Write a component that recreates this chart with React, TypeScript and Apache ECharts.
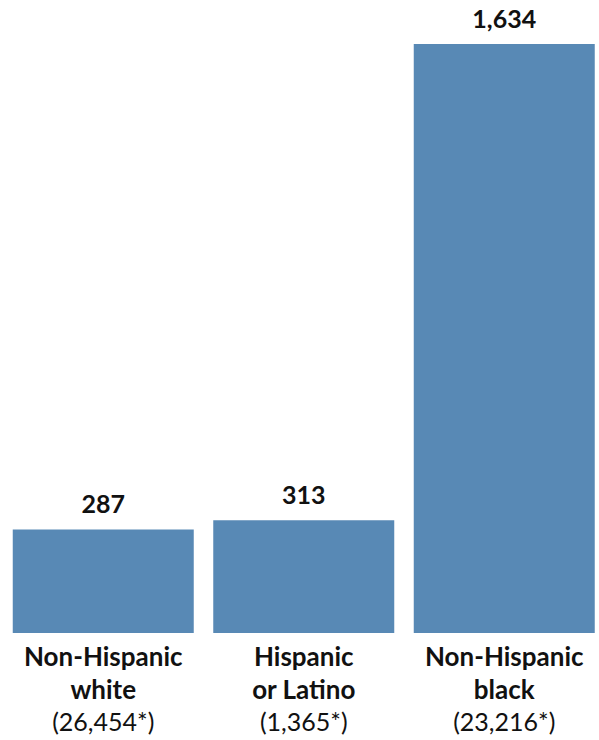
import React, { useEffect, useRef } from "react";
import * as echarts from "echarts";

const categories = ["Non-Hispanic\nwhite", "Hispanic\nor Latino", "Non-Hispanic\nblack"];
const counts = ["(26,454*)", "(1,365*)", "(23,216*)"];
const values = [287, 313, 1634];

const FONT = "Lato";

export default function App() {
  const ref = useRef<HTMLDivElement>(null);
  useEffect(() => {
    if (!ref.current) return;
    const chart = echarts.init(ref.current, undefined, { renderer: "svg" });
    chart.setOption({
      animation: false,
      grid: { left: 3, top: 44, bottom: 107, right: 1.5 },
      xAxis: {
        type: "category",
        data: categories,
        axisLine: { show: false },
        axisTick: { show: false },
        axisLabel: {
          interval: 0,
          margin: 6,
          formatter: (v: string, i: number) =>
            v
              .split("\n")
              .map((s) => `{b|${s}}`)
              .join("\n") + `\n{n|${counts[i]}}`,
          rich: {
            b: { fontFamily: FONT, fontWeight: "bold", fontSize: 26, lineHeight: 33, color: "#111" },
            n: { fontFamily: FONT, fontWeight: "normal", fontSize: 25, lineHeight: 31, color: "#111" },
          },
        },
      },
      yAxis: { type: "value", min: 0, max: 1634, show: false, splitLine: { show: false } },
      series: [
        {
          type: "bar",
          data: values,
          barWidth: 181,
          itemStyle: { color: "#5889B5" },
          label: {
            show: true,
            position: "top",
            distance: 14,
            fontFamily: FONT,
            fontWeight: "bold",
            fontSize: 25,
            color: "#111",
            formatter: (p: any) => Number(p.value).toLocaleString("en-US"),
          },
        },
      ],
    });
    return () => chart.dispose();
  }, []);
  return (
    <div
      style={{ position: "absolute", left: 0, top: 0, width: 599, height: 740, overflow: "hidden", background: "#fff" }}
    >
      <div ref={ref} style={{ width: 606, height: 740 }} />
    </div>
  );
}
